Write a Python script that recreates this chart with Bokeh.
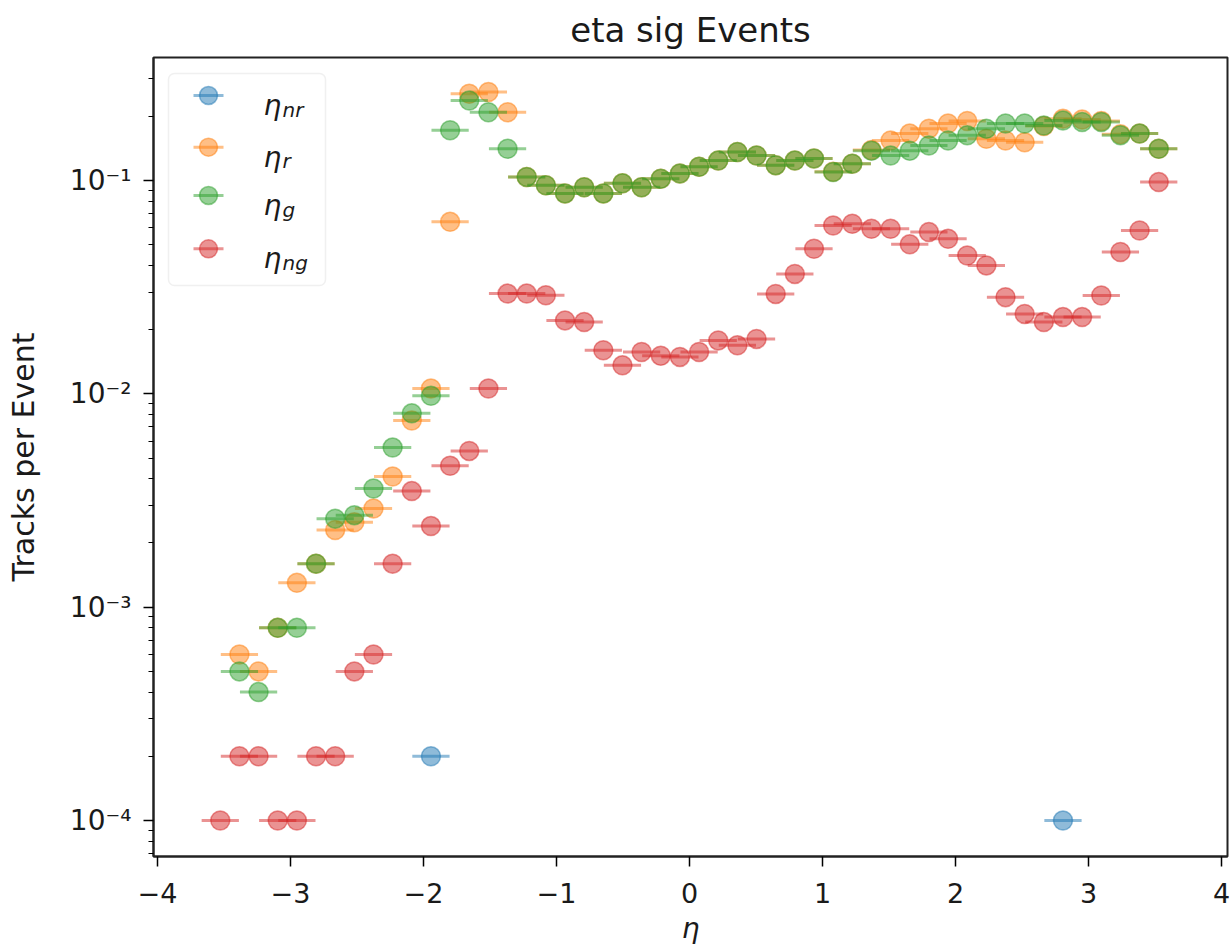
from bokeh.plotting import figure
from bokeh.models import (Range1d, LinearScale, FixedTicker, CustomJSTickFormatter,
                          BoxAnnotation, ColumnDataSource)
from bokeh.core.properties import value
from bokeh.embed import file_html
from bokeh.resources import INLINE

# ---------------- data ----------------
title = "eta sig Events"
x_label = "η"
y_label = "Tracks per Event"

x_ticks = [-4, -3, -2, -1, 0, 1, 2, 3, 4]
y_major_ticks = [1e-4, 1e-3, 1e-2, 1e-1]

# bin centres of the eta histogram
eta_bins = [-3.528, -3.384, -3.240, -3.096, -2.952, -2.808, -2.664, -2.520, -2.376, -2.232,
            -2.088, -1.944, -1.800, -1.656, -1.512, -1.368, -1.224, -1.080, -0.936, -0.792,
            -0.648, -0.504, -0.360, -0.216, -0.072, 0.072, 0.216, 0.360, 0.504, 0.648,
            0.792, 0.936, 1.080, 1.224, 1.368, 1.512, 1.656, 1.800, 1.944, 2.088,
            2.232, 2.376, 2.520, 2.664, 2.808, 2.952, 3.096, 3.240, 3.384, 3.528]
x_err = 0.14  # half-width of the horizontal error bars

# eta_nr
nr_x = [-1.944, 2.808]
nr_y = [2e-4, 1e-4]

# eta_r (bins 1..49)
r_x = eta_bins[1:]
r_y = [6e-4, 5e-4, 8e-4, 1.3e-3, 1.6e-3, 2.3e-3, 2.5e-3, 2.9e-3, 4.1e-3, 7.5e-3,
       0.0106, 0.064, 0.255, 0.260, 0.209, 0.104, 0.095, 0.087, 0.093, 0.087,
       0.097, 0.093, 0.102, 0.108, 0.116, 0.124, 0.136, 0.131, 0.118, 0.124,
       0.127, 0.110, 0.120, 0.139, 0.154, 0.166, 0.175, 0.185, 0.190, 0.157,
       0.154, 0.151, 0.180, 0.195, 0.193, 0.190, 0.165, 0.166, 0.141]

# eta_g (bins 1..49)
g_x = eta_bins[1:]
g_y = [5e-4, 4e-4, 8e-4, 8e-4, 1.6e-3, 2.6e-3, 2.7e-3, 3.6e-3, 5.6e-3, 8.1e-3,
       9.8e-3, 0.172, 0.237, 0.209, 0.141, 0.104, 0.095, 0.087, 0.093, 0.087,
       0.097, 0.093, 0.102, 0.108, 0.116, 0.124, 0.136, 0.131, 0.118, 0.124,
       0.127, 0.1095, 0.120, 0.138, 0.131, 0.138, 0.146, 0.154, 0.163, 0.175,
       0.185, 0.185, 0.181, 0.191, 0.188, 0.188, 0.163, 0.166, 0.141]

# eta_ng (bins 0..49)
ng_x = eta_bins
ng_y = [1e-4, 2e-4, 2e-4, 1e-4, 1e-4, 2e-4, 2e-4, 5e-4, 6e-4, 1.6e-3,
        3.5e-3, 2.4e-3, 4.6e-3, 5.4e-3, 0.0106, 0.0295, 0.0295, 0.029, 0.0221, 0.0217,
        0.0160, 0.0136, 0.0157, 0.0151, 0.0149, 0.0157, 0.0178, 0.0169, 0.0181, 0.0294,
        0.0365, 0.0479, 0.0615, 0.0627, 0.0594, 0.0594, 0.0502, 0.0573, 0.0533, 0.0445,
        0.0400, 0.0284, 0.0237, 0.0217, 0.0229, 0.0229, 0.0289, 0.0462, 0.0583, 0.0983]

series = [
    ("nr", nr_x, nr_y, "#1f77b4"),
    ("r", r_x, r_y, "#ff7f0e"),
    ("g", g_x, g_y, "#2ca02c"),
    ("ng", ng_x, ng_y, "#d62728"),
]

# ---------------- layout / style ----------------
W, H = 1231, 949
FL, FR, FT, FB = 153, 1227, 57, 856   # frame edges in canvas pixels
FONT = "DejaVu Sans"
TXT = "#1a1a1a"

p = figure(width=W, height=H, y_axis_type="log",
           x_range=Range1d(-4.030, 4.045), y_range=Range1d(6.78e-5, 0.3773),
           output_backend="svg", toolbar_location=None,
           min_border_left=FL, min_border_right=W - FR,
           min_border_top=FT, min_border_bottom=H - FB)
p.background_fill_color = "white"
p.border_fill_color = "white"
p.outline_line_color = "#222222"
p.outline_line_width = 2
p.xgrid.visible = False
p.ygrid.visible = False

p.title.text = title
p.title.align = "center"
p.title.text_font = FONT
p.title.text_font_size = "34px"
p.title.text_font_style = "normal"
p.title.text_color = TXT
p.title.standoff = 15

# pixel-space ranges for the hand-made legend
p.extra_x_ranges = {"px": Range1d(FL, FR)}
p.extra_y_ranges = {"py": Range1d(H - FB, H - FT)}
p.extra_x_scales = {"px": LinearScale()}
p.extra_y_scales = {"py": LinearScale()}

xa = p.xaxis[0]
xa.ticker = FixedTicker(ticks=x_ticks)
xa.formatter = CustomJSTickFormatter(code="return tick < 0 ? '\\u2212' + (-tick) : String(tick);")
xa.major_tick_out = 10
xa.major_tick_in = 0
xa.minor_tick_out = 0
xa.minor_tick_in = 0
xa.axis_line_width = 2
xa.axis_line_color = "#222222"
xa.major_tick_line_width = 1.5
xa.major_label_text_font = FONT
xa.major_label_text_font_size = "27px"
xa.major_label_text_color = TXT
xa.major_label_standoff = 16
xa.axis_label = x_label
xa.axis_label_text_font = FONT
xa.axis_label_text_font_style = "italic"
xa.axis_label_text_font_size = "28px"
xa.axis_label_text_color = TXT
xa.axis_label_standoff = 6

minor = [m * d for d in [1e-5, 1e-4, 1e-3, 1e-2, 1e-1] for m in range(2, 10)]
ya = p.yaxis[0]
ya.ticker = FixedTicker(ticks=y_major_ticks, minor_ticks=minor)
ya.formatter = CustomJSTickFormatter(code="""
const e = Math.round(Math.log10(tick));
const sup = {'-': '\\u207b', '0': '\\u2070', '1': '\\u00b9', '2': '\\u00b2', '3': '\\u00b3',
             '4': '\\u2074', '5': '\\u2075', '6': '\\u2076', '7': '\\u2077', '8': '\\u2078', '9': '\\u2079'};
return '10' + String(e).split('').map(c => sup[c]).join('');
""")
ya.major_tick_out = 10
ya.major_tick_in = 0
ya.minor_tick_out = 5
ya.minor_tick_in = 0
ya.axis_line_width = 2
ya.axis_line_color = "#222222"
ya.major_tick_line_width = 1.5
ya.minor_tick_line_width = 1.2
ya.major_label_text_font = FONT
ya.major_label_text_font_size = "28px"
ya.major_label_text_color = TXT
ya.major_label_standoff = 12
ya.axis_label = y_label
ya.axis_label_text_font = FONT
ya.axis_label_text_font_style = "normal"
ya.axis_label_text_font_size = "30px"
ya.axis_label_text_color = TXT
ya.axis_label_standoff = 26

# ---------------- data marks ----------------
for name, xs, ys, col in series:
    src = ColumnDataSource(dict(
        x=xs, y=ys,
        x0=[v - x_err for v in xs], x1=[v + x_err for v in xs]))
    p.segment(x0="x0", y0="y", x1="x1", y1="y", source=src,
              line_color=col, line_alpha=0.5, line_width=3)
    p.scatter(x="x", y="y", source=src, marker="circle", size=19,
              fill_color=col, fill_alpha=0.5, line_color=col, line_alpha=0.5, line_width=1.5)

# ---------------- legend (drawn in pixel space) ----------------
legend_box = BoxAnnotation(left=168, right=325, bottom=H - 285, top=H - 73,
                           x_range_name="px", y_range_name="py",
                           fill_color="white", fill_alpha=0.85,
                           line_color="#cccccc", line_width=1.5, border_radius=6,
                           level="underlay")
p.add_layout(legend_box)

row_py = [95, 146.7, 195, 248.3]
for (name, xs, ys, col), ry in zip(series, row_py):
    yy = H - ry
    p.segment(x0=[193], y0=[yy], x1=[223], y1=[yy], x_range_name="px", y_range_name="py",
              line_color=col, line_alpha=0.5, line_width=3)
    p.scatter(x=[208], y=[yy], x_range_name="px", y_range_name="py", marker="circle", size=18,
              fill_color=col, fill_alpha=0.5, line_color=col, line_alpha=0.5, line_width=1.5)
    p.text(x=[263], y=[H - (ry + 10)], text=["η"], x_range_name="px", y_range_name="py",
           text_font=value(FONT), text_font_style="italic", text_font_size="28px",
           text_baseline="alphabetic", text_align="left", text_color=TXT)
    p.text(x=[282], y=[H - (ry + 14)], text=[name], x_range_name="px", y_range_name="py",
           text_font=value(FONT), text_font_style="italic", text_font_size="20px",
           text_baseline="alphabetic", text_align="left", text_color=TXT)

open("out.html", "w").write(file_html(p, INLINE))
